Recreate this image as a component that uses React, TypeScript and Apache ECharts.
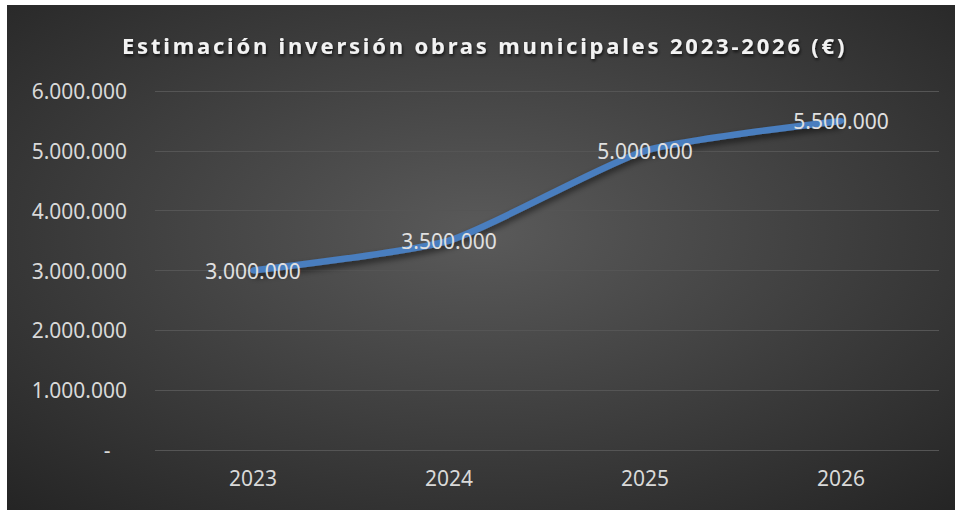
import React, { useEffect, useRef } from "react";
import * as echarts from "echarts";

const titleText = "Estimación inversión obras municipales 2023-2026 (€)";
const categories = ["2023", "2024", "2025", "2026"];
const investment = [3000000, 3500000, 5000000, 5500000];
const yMax = 6000000;
const yInterval = 1000000;

function fmt(v: number): string {
  if (v === 0) return "-";
  return Math.round(v)
    .toString()
    .replace(/\B(?=(\d{3})+(?!\d))/g, ".");
}

export default function App() {
  const ref = useRef<HTMLDivElement>(null);
  useEffect(() => {
    if (!ref.current) return;
    const el = ref.current;
    const chart = echarts.init(el, undefined, { renderer: "svg" });
    const font = "'Noto Sans', 'Open Sans', sans-serif";
    const spaceTitle = () => {
      el.querySelectorAll("text").forEach((t) => {
        if (t.textContent === titleText) {
          t.setAttribute("letter-spacing", "2.8");
        }
      });
    };
    chart.on("finished", spaceTitle);
    chart.setOption({
      animation: false,
      backgroundColor: new echarts.graphic.RadialGradient(0.5, 0.45, 0.75, [
        { offset: 0, color: "#5a5a5a" },
        { offset: 1, color: "#242424" },
      ]),
      title: {
        text: titleText,
        left: 110,
        top: 24,
        textStyle: {
          fontFamily: font,
          fontWeight: "bold",
          fontSize: 22,
          color: "#f2f2f2",
          textShadowColor: "rgba(0,0,0,0.7)",
          textShadowBlur: 3,
          textShadowOffsetX: 1,
          textShadowOffsetY: 2,
        },
      },
      grid: { left: 148, right: 16, top: 86, bottom: 60, containLabel: false },
      xAxis: {
        type: "category",
        data: categories,
        boundaryGap: true,
        axisLine: { show: false },
        axisTick: { show: false },
        axisLabel: {
          color: "#d9d9d9",
          fontFamily: font,
          fontSize: 21,
          margin: 17,
        },
      },
      yAxis: {
        type: "value",
        min: 0,
        max: yMax,
        interval: yInterval,
        axisLine: { show: false },
        axisTick: { show: false },
        splitLine: { lineStyle: { color: "#555555", width: 1 } },
        axisLabel: {
          color: "#d9d9d9",
          fontFamily: font,
          fontSize: 21,
          margin: 28,
          formatter: (v: number) => (v === 0 ? "-   " : fmt(v)),
        },
      },
      series: [
        {
          type: "line",
          data: investment,
          smooth: 0.2,
          symbol: "circle",
          symbolSize: 6,
          itemStyle: { color: "#4a7ebf" },
          lineStyle: {
            color: "#4a7ebf",
            width: 6.5,
            shadowColor: "rgba(0,0,0,0.55)",
            shadowBlur: 6,
            shadowOffsetY: 4,
          },
          label: {
            show: true,
            position: "inside",
            color: "#e0e0e0",
            fontFamily: font,
            fontSize: 21,
            formatter: (p: any) => fmt(p.value),
          },
        },
      ],
    });
    spaceTitle();
    const t = setTimeout(spaceTitle, 50);
    return () => {
      clearTimeout(t);
      chart.dispose();
    };
  }, []);
  return (
    <div
      style={{
        position: "absolute",
        left: 0,
        top: 0,
        width: 956,
        height: 510,
        background: "#ffffff",
      }}
    >
      <div
        ref={ref}
        style={{ position: "absolute", left: 7, top: 5, width: 948, height: 505 }}
      />
    </div>
  );
}
